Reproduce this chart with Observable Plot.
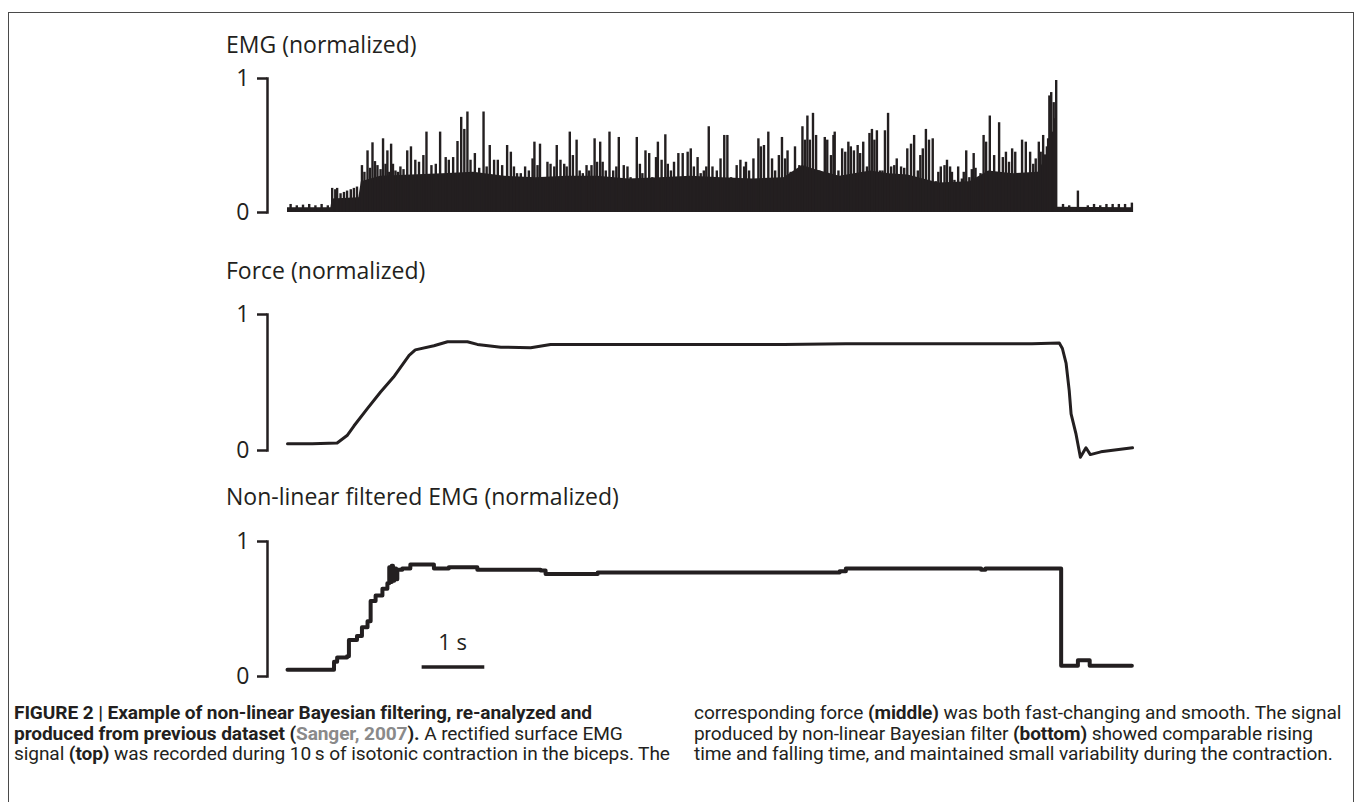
<!DOCTYPE html>
<html><head><meta charset="utf-8">
<script src="https://cdn.jsdelivr.net/npm/d3@7"></script>
<script src="https://cdn.jsdelivr.net/npm/@observablehq/plot@0.6"></script>
<style>
body{margin:0;background:#fff;}
#fig{position:relative;width:1355px;height:802px;overflow:hidden;font-family:"Open Sans",sans-serif;color:#231f20;}
.border{position:absolute;left:8px;top:12px;width:1344px;height:820px;border:1.5px solid #4a4a4a;border-bottom:none;}
.ttl{position:absolute;left:226px;font-size:23px;white-space:nowrap;line-height:1;}
.panel{position:absolute;left:0;}
.cap{position:absolute;top:703px;font-family:"Roboto",sans-serif;font-size:19.1px;line-height:20.5px;white-space:nowrap;color:#231f20;letter-spacing:-0.1px;}
.gray{color:#8a8a8a;}
</style></head>
<body><div id="fig"><div class="border"></div></div>
<script>
const INK = "#231f20";
const titles = ["EMG (normalized)", "Force (normalized)", "Non-linear filtered EMG (normalized)"];
const yTicks = [0, 1];
const scaleBarLabel = "1 s";

// EMG: dense background level (t in s, normalized value)
const emgBody = [[0,0.035],[0.70,0.035],[0.72,0.10],[1.15,0.11],[1.19,0.23],[1.5,0.27],[2.0,0.28],[2.5,0.29],[3.0,0.30],[3.5,0.27],[4.0,0.26],[4.5,0.27],[5.0,0.27],[5.5,0.25],[6.0,0.26],[6.5,0.27],[7.0,0.26],[7.5,0.25],[8.0,0.26],[8.3,0.35],[8.5,0.32],[8.9,0.27],[9.4,0.31],[9.7,0.29],[10.0,0.28],[10.5,0.22],[11.0,0.23],[11.3,0.31],[11.7,0.29],[12.1,0.30],[12.3,0.48],[12.38,0.52],[12.40,0.04],[13.62,0.035]];

// EMG spike peaks (t in s, normalized value)
const emgSpikes = [
[0.05,0.06],[0.15,0.05],[0.25,0.055],[0.35,0.06],[0.45,0.05],[0.55,0.06],[0.65,0.05],
[0.72,0.18],[0.77,0.17],[0.80,0.18],[0.855,0.14],[0.91,0.15],[0.96,0.16],[1.02,0.17],[1.07,0.18],[1.12,0.19],[1.20,0.35],[1.24,0.30],[1.29,0.46],[1.33,0.33],[1.37,0.52],[1.41,0.38],[1.45,0.35],[1.50,0.32],[1.54,0.55],[1.58,0.36],[1.61,0.46],[1.64,0.30],[1.67,0.51],[1.70,0.36],[1.74,0.31],[1.78,0.30],[1.82,0.34],[1.87,0.32],[1.93,0.46],[1.99,0.49],[2.06,0.39],[2.12,0.375],[2.19,0.425],[2.24,0.60],[2.32,0.35],[2.39,0.36],[2.46,0.60],[2.55,0.41],[2.60,0.39],[2.67,0.41],[2.74,0.53],[2.80,0.71],[2.85,0.62],[2.90,0.75],[2.95,0.39],[3.02,0.44],[3.09,0.33],[3.16,0.75],[3.21,0.34],[3.26,0.50],[3.33,0.39],[3.39,0.39],
[3.46,0.35],[3.54,0.50],[3.60,0.45],[3.65,0.34],[3.70,0.29],[3.76,0.29],[3.83,0.34],[3.89,0.31],[3.95,0.40],[3.98,0.525],[4.03,0.35],[4.07,0.51],[4.13,0.24],[4.19,0.375],[4.24,0.36],[4.30,0.34],[4.34,0.50],[4.40,0.39],[4.46,0.36],[4.50,0.34],[4.55,0.60],[4.60,0.425],[4.66,0.54],[4.71,0.31],[4.76,0.29],[4.82,0.35],[4.86,0.31],[4.90,0.35],[4.95,0.55],[4.99,0.375],[5.04,0.525],[5.08,0.375],[5.13,0.31],[5.19,0.60],[5.25,0.31],[5.30,0.34],[5.34,0.56],[5.42,0.35],[5.48,0.34],[5.53,0.26],[5.58,0.24],[5.63,0.56],[5.68,0.36],[5.72,0.29],[5.77,0.46],[5.83,0.44],[5.88,0.26],[5.94,0.41],[5.97,0.525],[6.03,0.39],[6.09,0.58],[6.13,0.36],[6.18,0.31],[6.23,0.375],[6.30,0.44],[6.37,0.44],[6.45,0.45],[6.50,0.475],[6.55,0.34],[6.61,0.41],[6.66,0.29],[6.71,0.31],[6.75,0.34],[6.79,0.64],[6.85,0.34],
[6.92,0.31],[6.98,0.40],[7.04,0.575],[7.09,0.575],[7.15,0.26],[7.24,0.35],[7.30,0.39],[7.36,0.34],[7.39,0.375],[7.44,0.31],[7.51,0.40],[7.59,0.55],[7.63,0.49],[7.68,0.50],[7.75,0.60],[7.81,0.40],[7.86,0.31],[7.92,0.425],[7.97,0.56],[8.02,0.40],[8.06,0.46],[8.11,0.30],[8.18,0.49],[8.25,0.35],[8.30,0.64],[8.34,0.54],[8.38,0.72],[8.42,0.54],[8.47,0.74],[8.52,0.575],[8.57,0.31],[8.66,0.56],[8.70,0.54],[8.76,0.425],[8.80,0.575],[8.82,0.60],[8.88,0.31],[8.94,0.475],[8.99,0.45],[9.04,0.525],[9.08,0.49],[9.13,0.46],[9.19,0.50],[9.23,0.44],[9.28,0.525],[9.34,0.34],[9.38,0.59],[9.42,0.62],[9.46,0.54],[9.50,0.61],[9.55,0.31],[9.59,0.31],[9.63,0.61],[9.68,0.74],[9.73,0.34],[9.78,0.35],[9.82,0.40],[9.89,0.34],[9.94,0.33],[9.99,0.475],[10.05,0.51],[10.10,0.575],[10.16,0.31],[10.20,0.425],[10.24,0.475],[10.29,0.62],[10.34,0.54],
[10.40,0.55],[10.45,0.23],[10.49,0.30],[10.53,0.34],[10.59,0.35],[10.63,0.39],[10.68,0.34],[10.71,0.30],[10.75,0.24],[10.81,0.34],[10.87,0.25],[10.90,0.30],[10.94,0.46],[10.99,0.26],[11.03,0.32],[11.06,0.44],[11.09,0.33],[11.12,0.24],[11.17,0.29],[11.22,0.575],[11.26,0.525],[11.32,0.72],[11.39,0.425],[11.47,0.67],[11.53,0.41],[11.58,0.45],[11.63,0.375],[11.68,0.475],[11.73,0.45],[11.79,0.29],[11.84,0.54],[11.90,0.525],[11.97,0.45],[12.02,0.36],[12.06,0.40],[12.11,0.525],[12.14,0.45],[12.18,0.575],[12.21,0.43],[12.24,0.49],[12.26,0.55],[12.28,0.87],[12.31,0.895],[12.33,0.60],[12.35,0.82],[12.37,0.70],[12.39,0.985],
[12.50,0.06],[12.60,0.05],[12.74,0.16],[12.90,0.05],[13.00,0.06],[13.10,0.05],[13.20,0.06],[13.30,0.06],[13.40,0.06],[13.50,0.06],[13.61,0.07]];

// Force (t in s, normalized)
const force = [[0,0.05],[0.40,0.05],[0.80,0.055],[0.96,0.11],[1.07,0.18],[1.29,0.31],[1.50,0.43],[1.71,0.54],[1.96,0.70],[2.06,0.74],[2.36,0.77],[2.58,0.80],[2.90,0.80],[3.06,0.78],[3.44,0.76],[3.92,0.755],[4.24,0.78],[5.05,0.78],[6.0,0.78],[7.0,0.78],[8.0,0.78],[9.0,0.785],[10.0,0.785],[11.0,0.785],[12.0,0.785],[12.44,0.79],[12.49,0.75],[12.55,0.64],[12.60,0.44],[12.63,0.27],[12.71,0.12],[12.78,-0.05],[12.87,0.02],[12.94,-0.03],[13.11,-0.01],[13.62,0.02]];

// Non-linear filtered EMG (t in s, normalized)
const filtered = [[0,0.05],[0.75,0.11],[0.80,0.14],[0.96,0.15],[0.99,0.27],[1.12,0.30],[1.20,0.365],[1.29,0.41],[1.34,0.56],[1.42,0.60],[1.53,0.65],[1.61,0.69],[1.64,0.81],[1.66,0.70],[1.68,0.82],[1.70,0.71],[1.72,0.80],[1.75,0.72],[1.77,0.79],[1.85,0.80],[1.98,0.83],[2.25,0.83],[2.36,0.80],[2.6,0.81],[2.9,0.81],[3.06,0.79],[3.5,0.79],[4.08,0.785],[4.16,0.76],[5.0,0.77],[6,0.77],[7,0.77],[8,0.77],[8.9,0.78],[9.0,0.80],[10,0.80],[11.1,0.80],[11.18,0.79],[11.25,0.80],[12.47,0.80],[12.47,0.08],[12.74,0.12],[12.93,0.08],[13.61,0.08]];

const scaleBar = {x1: 2.17, x2: 3.18, y: 0.07, labelX: 2.66, labelY: 0.25};

const fig = document.getElementById("fig");
const toObj = a => a.map(([t, v]) => ({t, v}));

function panel(marks, top, height) {
  const svg = Plot.plot({
    width: 1355, height, marginLeft: 267, marginRight: 223, marginTop: 18, marginBottom: 18,
    x: {domain: [0, 13.62], insetLeft: 20, axis: null},
    y: {domain: [0, 1], axis: null, label: null},
    style: {fontFamily: "Open Sans", fontSize: "23px", color: INK, background: "transparent", overflow: "visible"},
    marks: [
      ...marks,
      Plot.frame({anchor: "left", stroke: INK, strokeWidth: 2.5}),
      Plot.axisY({ticks: yTicks, label: null, tickSize: 10, tickPadding: 8, stroke: INK, strokeWidth: 2.5, fontSize: 23, tickFormat: d => String(d)})
    ]
  });
  svg.classList.add("panel");
  svg.style.top = top + "px";
  fig.appendChild(svg);
}

panel([
  Plot.areaY(toObj(emgBody), {x: "t", y: "v", fill: INK}),
  Plot.ruleX(toObj(emgSpikes), {x: "t", y1: 0, y2: "v", stroke: INK, strokeWidth: 2.4})
], 60, 170);

panel([
  Plot.line(toObj(force), {x: "t", y: "v", stroke: INK, strokeWidth: 3})
], 296, 172);

panel([
  Plot.line(toObj(filtered), {x: "t", y: "v", stroke: INK, strokeWidth: 4, curve: "step-after"}),
  Plot.ruleY([scaleBar], {x1: "x1", x2: "x2", y: "y", stroke: INK, strokeWidth: 3.5}),
  Plot.text([scaleBar], {x: "labelX", y: "labelY", text: () => scaleBarLabel, fontSize: 22, fill: INK})
], 523, 171);

const titleTops = [33, 259, 485];
titles.forEach((t, i) => {
  const d = document.createElement("div");
  d.className = "ttl"; d.textContent = t; d.style.top = titleTops[i] + "px";
  fig.appendChild(d);
});

const capL = document.createElement("div");
capL.className = "cap"; capL.style.left = "14px";
capL.innerHTML = '<b>FIGURE 2 | Example of non-linear Bayesian filtering, re-analyzed and</b><br><b>produced from previous dataset (<span class="gray">Sanger, 2007</span>).</b> A rectified surface EMG<br>signal <b>(top)</b> was recorded during 10\u2009s of isotonic contraction in the biceps. The';
fig.appendChild(capL);
const capR = document.createElement("div");
capR.className = "cap"; capR.style.left = "694px";
capR.innerHTML = 'corresponding force <b>(middle)</b> was both fast-changing and smooth. The signal<br>produced by non-linear Bayesian filter <b>(bottom)</b> showed comparable rising<br>time and falling time, and maintained small variability during the contraction.';
fig.appendChild(capR);
</script></body></html>
